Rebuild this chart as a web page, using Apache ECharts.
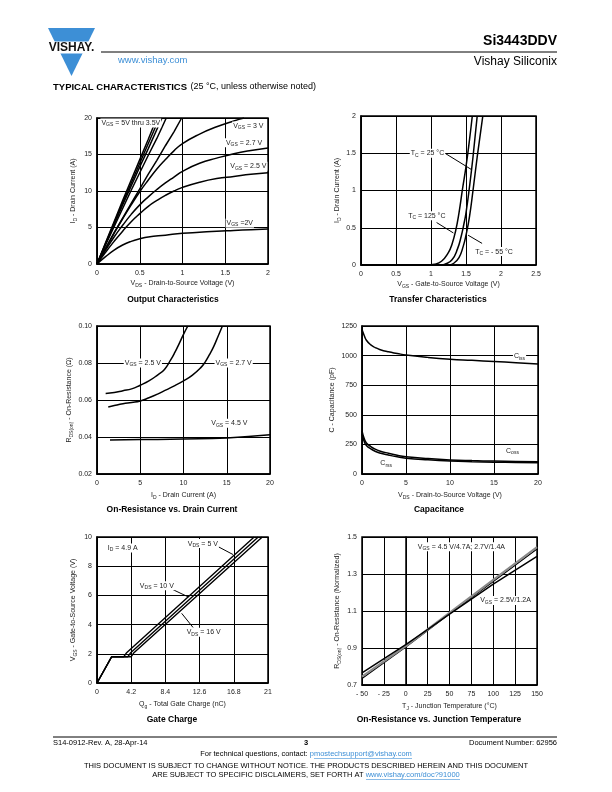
<!DOCTYPE html>
<html><head><meta charset="utf-8">
<script src="https://cdn.jsdelivr.net/npm/echarts/dist/echarts.min.js"></script>
<style>html,body{margin:0;padding:0;background:#fff}#c{width:612px;height:792px}</style>
</head><body><div id="c"></div>
<script>
// ---------- DATA ----------
// 1 Output Characteristics (VDS V, ID A)
const out_5V   = [[0,0],[0.1,2.9],[0.2,5.8],[0.3,8.7],[0.4,11.5],[0.5,14.3],[0.6,17.1],[0.7,20]];
const out_45V  = [[0,0],[0.1,2.8],[0.2,5.6],[0.3,8.4],[0.4,11.1],[0.5,13.8],[0.6,16.5],[0.73,20]];
const out_4V   = [[0,0],[0.1,2.7],[0.2,5.4],[0.3,8.1],[0.4,10.7],[0.5,13.3],[0.6,15.8],[0.76,20]];
const out_35V  = [[0,0],[0.1,2.6],[0.2,5.1],[0.3,7.6],[0.4,10.1],[0.5,12.5],[0.6,14.9],[0.7,17.2],[0.81,20]];
const out_32V  = [[0,0],[0.1,2.15],[0.2,4.3],[0.3,6.3],[0.4,8.3],[0.5,10.3],[0.6,12.3],[0.7,14.2],[0.8,16.2],[0.9,18.1],[0.99,20]];
const out_3V   = [[0,0],[0.1,2.1],[0.2,4.2],[0.3,6.2],[0.4,8.1],[0.5,9.9],[0.6,11.5],[0.7,13.0],[0.8,14.3],[0.9,15.5],[1.0,16.5],[1.2,17.8],[1.4,18.8],[1.6,19.6],[1.72,20]];
const out_27V  = [[0,0],[0.1,1.9],[0.2,3.7],[0.3,5.3],[0.4,6.8],[0.5,8.1],[0.6,9.2],[0.7,10.2],[0.8,11.1],[0.9,11.9],[1.0,12.7],[1.2,13.8],[1.4,14.5],[1.6,15.1],[1.8,15.55],[2.0,15.9]];
const out_25V  = [[0,0],[0.1,1.6],[0.2,3.1],[0.3,4.5],[0.4,5.8],[0.5,6.9],[0.6,7.9],[0.7,8.7],[0.8,9.4],[0.9,10.0],[1.0,10.5],[1.2,11.2],[1.4,11.7],[1.6,12.0],[1.8,12.3],[2.0,12.5]];
const out_2V   = [[0,0],[0.1,1.0],[0.2,1.9],[0.3,2.6],[0.4,3.1],[0.5,3.45],[0.6,3.7],[0.8,3.95],[1.0,4.2],[1.2,4.35],[1.4,4.5],[1.6,4.6],[1.8,4.7],[2.0,4.8]];
// 2 Transfer Characteristics (VGS V, ID A)
const tr_125 = [[0,0],[0.95,0],[1.05,0.01],[1.15,0.05],[1.25,0.17],[1.3,0.28],[1.35,0.45],[1.4,0.7],[1.45,1.02],[1.5,1.32],[1.55,1.68],[1.59,2.0]];
const tr_25  = [[0,0],[1.15,0],[1.2,0.01],[1.3,0.07],[1.38,0.22],[1.43,0.38],[1.47,0.55],[1.5,0.7],[1.55,1.05],[1.6,1.45],[1.66,2.0]];
const tr_m55 = [[0,0],[1.25,0],[1.32,0.02],[1.4,0.1],[1.46,0.25],[1.5,0.4],[1.55,0.65],[1.6,1.0],[1.66,1.45],[1.74,2.0]];
// 3 On-Resistance vs Drain Current (ID A, RDS ohm)
const ron_25V = [[1,0.0635],[2,0.064],[3,0.065],[4,0.066],[5,0.068],[6,0.0703],[7,0.0735],[7.8,0.0765],[8.5,0.0815],[9,0.0857],[9.5,0.0905],[10,0.0955],[10.5,0.10]];
const ron_27V = [[1.3,0.0562],[2,0.057],[3,0.058],[4,0.0587],[5,0.0595],[6,0.0612],[7,0.0632],[8,0.0655],[9,0.0678],[10,0.0703],[11,0.0733],[12,0.0775],[12.5,0.0805],[13,0.0845],[13.5,0.089],[14,0.0945],[14.5,0.10]];
const ron_45V = [[1.5,0.0384],[5,0.0386],[10,0.0389],[15,0.0395],[20,0.0412]];
// 4 Capacitance (VDS V, pF)
const cap_iss = [[0,1220],[0.25,1170],[0.5,1130],[1,1090],[1.5,1068],[2,1052],[3,1032],[4,1018],[5,1005],[7.5,985],[10,970],[12.5,960],[15,950],[17.5,940],[20,930]];
const cap_oss = [[0,365],[0.25,300],[0.5,262],[1,232],[1.5,210],[2,195],[3,175],[4,158],[5,146],[7.5,130],[10,119],[12.5,113],[15,109],[17.5,106],[20,103]];
const cap_rss = [[0,340],[0.25,275],[0.5,240],[1,212],[1.5,192],[2,178],[3,160],[4,145],[5,134],[7.5,120],[10,110],[12.5,104],[15,100],[17.5,97],[20,95]];
// 5 Gate Charge (Qg nC, VGS V)
const qg_5V  = [[0,0],[1.8,1.8],[3.3,1.8],[3.6,2.05],[19.3,10]];
const qg_10V = [[0,0],[1.8,1.8],[3.8,1.8],[4.1,2.05],[19.8,10]];
const qg_16V = [[0,0],[1.8,1.8],[4.2,1.8],[4.5,2.05],[20.3,10]];
// 6 On-Resistance vs Junction Temperature (TJ C, normalized)
const tj_45V = [[-50,0.745],[0,0.91],[25,1.0],[50,1.09],[100,1.268],[150,1.445]];
const tj_27V = [[-50,0.735],[0,0.905],[25,0.995],[50,1.085],[100,1.26],[150,1.435]];
const tj_25V = [[-50,0.765],[0,0.918],[25,1.0],[50,1.083],[100,1.245],[150,1.395]];

// ---------- STYLE ----------
const F = '"Liberation Sans", Arial, Helvetica, sans-serif';
const TXT = '#222';
const rich = {
  n: {fontSize: 7, fontFamily: F, color: TXT, lineHeight: 9},
  s: {fontSize: 5, fontFamily: F, color: TXT, lineHeight: 9, verticalAlign: 'bottom', padding: [3, 0, 0, 0]}
};
const grids = [
  {left: 97, top: 118, width: 171, height: 146},
  {left: 361, top: 116, width: 175, height: 149},
  {left: 97, top: 326, width: 173, height: 148},
  {left: 362, top: 326, width: 176, height: 148},
  {left: 97, top: 537, width: 171, height: 146},
  {left: 362, top: 537, width: 175, height: 148}
].map(g => Object.assign({show: true, borderColor: '#000', borderWidth: 1.5, backgroundColor: '#fff'}, g));

function axis(i, min, max, interval, name, gap, fmt, isY) {
  const a = {
    gridIndex: i, type: 'value', min, max, interval, name,
    nameLocation: 'middle', nameGap: gap,
    nameTextStyle: {rich, fontSize: 7, fontFamily: F, color: TXT},
    axisLine: {show: true, lineStyle: {color: '#000', width: 1.5}},
    axisTick: {show: false},
    axisLabel: {fontSize: 7, fontFamily: F, color: TXT, margin: isY ? 5 : 6, formatter: fmt, showMinLabel: true, showMaxLabel: true},
    splitLine: {show: true, lineStyle: {color: '#000', width: 1}}
  };
  if (isY) a.nameRotate = 90;
  return a;
}
const f1 = v => String(+(+v).toFixed(1));
const f2 = v => (+v).toFixed(2);
const fT = v => v < 0 ? '- ' + (-v) : String(v);

const xAxis = [
  axis(0, 0, 2, 0.5, '{n|V}{s|DS}{n| - Drain-to-Source Voltage (V)}', 15, f1),
  axis(1, 0, 2.5, 0.5, '{n|V}{s|GS}{n| - Gate-to-Source Voltage (V)}', 15, f1),
  axis(2, 0, 20, 5, '{n|I}{s|D}{n| - Drain Current (A)}', 17, f1),
  axis(3, 0, 20, 5, '{n|V}{s|DS}{n| - Drain-to-Source Voltage (V)}', 17, f1),
  axis(4, 0, 21, 4.2, '{n|Q}{s|g}{n| - Total Gate Charge (nC)}', 17, f1),
  axis(5, -50, 150, 25, '{n|T}{s|J}{n| - Junction Temperature (°C)}', 17, fT)
];
const yAxis = [
  axis(0, 0, 20, 5, '{n|I}{s|D}{n| - Drain Current (A)}', 19, f1, true),
  axis(1, 0, 2, 0.5, '{n|I}{s|D}{n| - Drain Current (A)}', 19, f1, true),
  axis(2, 0.02, 0.10, 0.02, '{n|R}{s|DS(on)}{n| - On-Resistance (Ω)}', 23, f2, true),
  axis(3, 0, 1250, 250, '{n|C - Capacitance (pF)}', 25, f1, true),
  axis(4, 0, 10, 2, '{n|V}{s|GS}{n| - Gate-to-Source Voltage (V)}', 19, f1, true),
  axis(5, 0.7, 1.5, 0.2, '{n|R}{s|DS(on)}{n| - On-Resistance (Normalized)}', 20, f1, true)
];

const labRich = {
  n: {fontSize: 7, fontFamily: F, color: TXT, lineHeight: 9},
  s: {fontSize: 5, fontFamily: F, color: TXT, lineHeight: 9, verticalAlign: 'bottom', padding: [3, 0, 0, 0]}
};
function note(x, y, text, align) {
  return {coord: [x, y], symbol: 'circle', symbolSize: 0,
    label: {show: true, position: 'inside', formatter: text, align: align || 'center', verticalAlign: 'middle',
      rich: labRich, backgroundColor: '#fff', padding: [0, 1]}};
}
function arrow(x1, y1, x2, y2) { return [{coord: [x1, y1]}, {coord: [x2, y2]}]; }
function line(i, data, opt) {
  opt = opt || {};
  const s = {type: 'line', xAxisIndex: i, yAxisIndex: i, data, showSymbol: false, symbol: 'none',
    smooth: opt.smooth === undefined ? 0.5 : opt.smooth, silent: true, clip: true,
    lineStyle: {color: opt.color || '#000', width: opt.width || 1.5}, z: opt.z || 3};
  if (opt.notes) s.markPoint = {silent: true, symbol: 'circle', symbolSize: 0, data: opt.notes, z: 10};
  if (opt.arrows) s.markLine = {silent: true, symbol: ['none', 'arrow'], symbolSize: [0, 6],
    lineStyle: {color: '#000', width: 1, type: 'solid'}, label: {show: false}, data: opt.arrows};
  return s;
}

const series = [
  line(0, out_5V, {smooth: false}), line(0, out_45V, {smooth: false}), line(0, out_4V, {smooth: false}),
  line(0, out_35V, {smooth: false}), line(0, out_32V, {smooth: false}),
  line(0, out_3V), line(0, out_27V), line(0, out_25V),
  line(0, out_2V, {notes: [
    note(0.04, 19.3, '{n|V}{s|GS}{n| = 5V thru 3.5V}', 'left'),
    note(1.77, 18.9, '{n|V}{s|GS}{n| = 3 V}'),
    note(1.72, 16.6, '{n|V}{s|GS}{n| = 2.7 V}'),
    note(1.77, 13.4, '{n|V}{s|GS}{n| = 2.5 V}'),
    note(1.67, 5.6, '{n|V}{s|GS}{n| =2V}')
  ]}),
  line(1, tr_125), line(1, tr_25),
  line(1, tr_m55, {notes: [
    note(0.95, 1.5, '{n|T}{s|C}{n| = 25 °C}'),
    note(0.94, 0.66, '{n|T}{s|C}{n| = 125 °C}'),
    note(1.9, 0.18, '{n|T}{s|C}{n| = - 55 °C}')
  ], arrows: [arrow(1.2, 1.5, 1.58, 1.28), arrow(1.08, 0.57, 1.32, 0.43), arrow(1.73, 0.29, 1.53, 0.40)]}),
  line(2, ron_25V), line(2, ron_27V),
  line(2, ron_45V, {notes: [
    note(5.3, 0.080, '{n|V}{s|GS}{n| = 2.5 V}'),
    note(15.8, 0.080, '{n|V}{s|GS}{n| = 2.7 V}'),
    note(15.3, 0.0474, '{n|V}{s|GS}{n| = 4.5 V}')
  ]}),
  line(3, cap_iss), line(3, cap_oss),
  line(3, cap_rss, {notes: [
    note(17.9, 995, '{n|C}{s|iss}'),
    note(17.1, 194, '{n|C}{s|oss}'),
    note(2.75, 89, '{n|C}{s|rss}')
  ]}),
  line(4, qg_5V, {smooth: false, width: 1.4}), line(4, qg_10V, {smooth: false, width: 1.4}),
  line(4, qg_16V, {smooth: false, width: 1.4, notes: [
    note(1.2, 9.25, '{n|I}{s|D}{n| = 4.9 A}', 'left'),
    note(13.0, 9.55, '{n|V}{s|DS}{n| = 5 V}'),
    note(7.35, 6.66, '{n|V}{s|DS}{n| = 10 V}'),
    note(13.1, 3.48, '{n|V}{s|DS}{n| = 16 V}')
  ], arrows: [arrow(14.7, 9.39, 16.7, 8.8), arrow(9.0, 6.48, 11.2, 5.9), arrow(11.8, 3.8, 10.4, 4.77)]}),
  line(5, tj_27V, {smooth: false, width: 1.2}),
  line(5, tj_45V, {smooth: false, color: '#8a8a8a', width: 2.2, z: 4}),
  line(5, tj_25V, {smooth: false, width: 1.5, z: 5, notes: [
    note(63.6, 1.447, '{n|V}{s|GS}{n| = 4.5 V/4.7A; 2.7V/1.4A}'),
    note(114, 1.157, '{n|V}{s|GS}{n| = 2.5V/1.2A}')
  ]})
];

// ---------- PAGE GRAPHICS ----------
const blue = '#3d8fd6';
function t(x, y, text, font, align, color, extra) {
  return {type: 'text', silent: true, z: 20, style: Object.assign({x, y, text, font, fill: color || '#000',
    textAlign: align || 'left', textVerticalAlign: 'middle'}, extra || {})};
}
const graphic = [
  // logo
  {type: 'polygon', silent: true, shape: {points: [[48, 28], [95, 28], [71.5, 76]]}, style: {fill: blue}},
  {type: 'rect', silent: true, shape: {x: 44, y: 41.5, width: 56, height: 12}, style: {fill: '#fff'}},
  t(71.5, 48, 'VISHAY.', 'bold 12px ' + F, 'center', '#111'),
  {type: 'line', silent: true, shape: {x1: 101, y1: 52, x2: 557, y2: 52}, style: {stroke: '#000', lineWidth: 1}},
  t(557, 41, 'Si3443DDV', 'bold 14px ' + F, 'right'),
  t(557, 62, 'Vishay Siliconix', '12px ' + F, 'right'),
  t(118, 60, 'www.vishay.com', '9.5px ' + F, 'left', blue),
  {type: 'text', silent: true, style: {x: 53, y: 87, textVerticalAlign: 'middle',
    text: '{b|TYPICAL CHARACTERISTICS} {r|(25 °C, unless otherwise noted)}',
    rich: {b: {font: 'bold 9.5px ' + F, fill: '#000'}, r: {font: '9px ' + F, fill: '#000'}}}},
  // chart titles
  t(173, 300, 'Output Characteristics', 'bold 8.5px ' + F, 'center'),
  t(438, 300, 'Transfer Characteristics', 'bold 8.5px ' + F, 'center'),
  t(172, 510, 'On-Resistance vs. Drain Current', 'bold 8.5px ' + F, 'center'),
  t(439, 510, 'Capacitance', 'bold 8.5px ' + F, 'center'),
  t(172, 720, 'Gate Charge', 'bold 8.5px ' + F, 'center'),
  t(439, 720, 'On-Resistance vs. Junction Temperature', 'bold 8.5px ' + F, 'center'),
  // footer
  {type: 'line', silent: true, shape: {x1: 53, y1: 737, x2: 557, y2: 737}, style: {stroke: '#000', lineWidth: 1}},
  t(53, 743, 'S14-0912-Rev. A, 28-Apr-14', '7.5px ' + F, 'left'),
  t(306, 743, '3', 'bold 7.5px ' + F, 'center'),
  t(557, 743, 'Document Number: 62956', '7.5px ' + F, 'right'),
  {type: 'text', silent: true, style: {x: 306, y: 754, textAlign: 'center', textVerticalAlign: 'middle',
    text: '{n|For technical questions, contact: }{l|pmostechsupport@vishay.com}',
    rich: {n: {font: '7.5px ' + F, fill: '#000'}, l: {font: '7.5px ' + F, fill: blue}}}},
  t(306, 766, 'THIS DOCUMENT IS SUBJECT TO CHANGE WITHOUT NOTICE. THE PRODUCTS DESCRIBED HEREIN AND THIS DOCUMENT', '7.5px ' + F, 'center'),
  {type: 'text', silent: true, style: {x: 306, y: 775, textAlign: 'center', textVerticalAlign: 'middle',
    text: '{n|ARE SUBJECT TO SPECIFIC DISCLAIMERS, SET FORTH AT }{l|www.vishay.com/doc?91000}',
    rich: {n: {font: '7.5px ' + F, fill: '#000'}, l: {font: '7.5px ' + F, fill: blue}}}},
  // link underlines
  {type: 'line', silent: true, shape: {x1: 314, y1: 758.5, x2: 412, y2: 758.5}, style: {stroke: blue, lineWidth: 0.6}},
  {type: 'line', silent: true, shape: {x1: 366, y1: 779.5, x2: 460, y2: 779.5}, style: {stroke: blue, lineWidth: 0.6}}
];

const chart = echarts.init(document.getElementById('c'), null, {renderer: 'canvas'});
chart.setOption({
  animation: false,
  backgroundColor: '#fff',
  textStyle: {fontFamily: F},
  grid: grids, xAxis, yAxis, series, graphic
});
</script></body></html>
